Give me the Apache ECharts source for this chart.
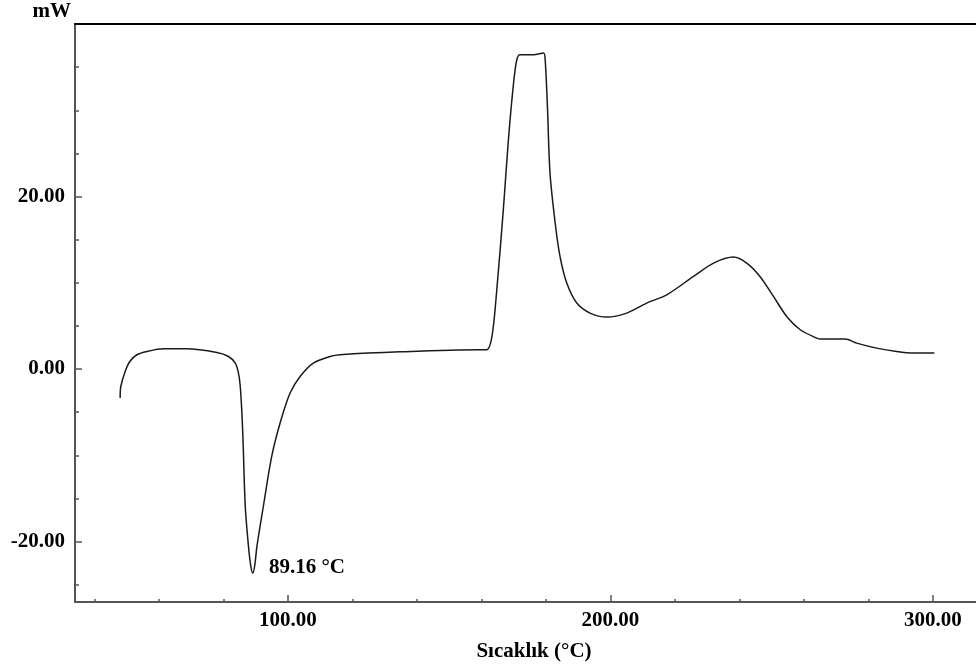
<!DOCTYPE html>
<html>
<head>
<meta charset="utf-8">
<script src="https://cdn.jsdelivr.net/npm/echarts@6/dist/echarts.min.js"></script>
<style>html,body{margin:0;padding:0;background:#fff;}#c{width:976px;height:667px;}</style>
</head>
<body>
<div id="c"></div>
<script>
// Temperature (°C)
var temps = [48.0,48.2,49.55,51.0,53.2,56.3,61.4,68.7,78.0,81.6,83.7,84.6,85.2,85.7,86.1,86.8,87.8,88.5,89.16,89.8,90.4,92.4,95.0,97.6,100.7,103.8,107.9,113.1,116.2,134.8,159.6,161.7,163.3,164.8,166.9,168.4,170.0,171.0,172.0,176.2,179.3,179.8,180.5,181.3,182.9,184.4,186.5,189.6,193.7,198.9,205.1,211.3,217.5,225.8,232.0,238.2,242.3,246.4,250.6,254.7,258.9,264.0,265.1,272.8,276.4,282.6,288.8,294.0,300.5];
// Heat flow (mW)
var heatFlow = [-3.36,-2.02,-0.28,0.88,1.66,2.04,2.35,2.35,1.92,1.46,0.70,-0.3,-1.82,-4.7,-8.2,-15.93,-20.57,-22.8,-23.65,-22.6,-20.57,-15.93,-10.13,-6.26,-2.78,-0.86,0.70,1.46,1.66,2.0,2.24,2.24,3.78,9.19,18.85,26.59,33.16,35.86,36.44,36.44,36.64,35.86,30.45,22.72,16.93,13.06,9.97,7.65,6.49,6.03,6.49,7.65,8.61,10.74,12.29,12.99,12.29,10.74,8.42,6.10,4.56,3.59,3.48,3.48,3.01,2.43,2.04,1.86,1.86];
var xMajorTicks = [100, 200, 300];
var xMinorTicks = [40, 60, 80, 120, 140, 160, 180, 220, 240, 260, 280];
var yMajorTicks = [-20, 0, 20];
var yMinorTicks = [-25, -15, -10, -5, 5, 10, 15, 25, 30, 35];
var peakPoint = [89.16, -23.65];
var peakLabel = '89.16 °C';
var xName = 'Sıcaklık (°C)';
var yName = 'mW';

var data = temps.map(function (t, i) { return [t, heatFlow[i]]; });
var font = 'Liberation Serif, Times New Roman, serif';
var FS = 21;
var axisGray = '#555';
var XMIN = 34, XMAX = 313.4, YMIN = -27, YMAX = 40;

var chart = echarts.init(document.getElementById('c'));
chart.setOption({
  animation: false,
  backgroundColor: '#fff',
  grid: { left: 75, top: 24, right: 0, bottom: 65, containLabel: false, outerBoundsMode: 'none' },
  xAxis: [
    {
      type: 'value', position: 'bottom', min: XMIN, max: XMAX,
      axisLine: { show: true, onZero: false, lineStyle: { color: axisGray, width: 2 } },
      axisTick: { show: true, inside: true, length: 7, customValues: xMajorTicks, lineStyle: { color: axisGray, width: 1.5 } },
      axisLabel: { show: true, customValues: xMajorTicks, margin: 8, formatter: function (v) { return v.toFixed(2); }, fontFamily: font, fontWeight: 'bold', fontSize: FS, color: '#000' },
      splitLine: { show: false },
      name: xName, nameLocation: 'middle', nameGap: 39,
      nameTextStyle: { fontFamily: font, fontWeight: 'bold', fontSize: FS, color: '#000', padding: [0, 0, 0, 17] }
    },
    {
      type: 'value', position: 'bottom', min: XMIN, max: XMAX,
      axisLine: { show: false, onZero: false },
      axisTick: { show: true, inside: true, length: 3, customValues: xMinorTicks, lineStyle: { color: axisGray, width: 1.5 } },
      axisLabel: { show: false },
      splitLine: { show: false }
    },
    {
      type: 'value', position: 'top', min: XMIN, max: XMAX,
      axisLine: { show: true, onZero: false, lineStyle: { color: '#000', width: 2 } },
      axisTick: { show: false }, axisLabel: { show: false }, splitLine: { show: false }
    }
  ],
  yAxis: [
    {
      type: 'value', position: 'left', min: YMIN, max: YMAX,
      axisLine: { show: true, onZero: false, lineStyle: { color: axisGray, width: 2 } },
      axisTick: { show: true, inside: true, length: 7, customValues: yMajorTicks, lineStyle: { color: axisGray, width: 1.5 } },
      axisLabel: { show: true, customValues: yMajorTicks, margin: 10, formatter: function (v) { return v.toFixed(2); }, fontFamily: font, fontWeight: 'bold', fontSize: FS, color: '#000' },
      splitLine: { show: false },
      name: yName, nameLocation: 'end', nameGap: 2,
      nameTextStyle: { fontFamily: font, fontWeight: 'bold', fontSize: FS, color: '#000', align: 'right', padding: [0, 4, 0, 0] }
    },
    {
      type: 'value', position: 'left', min: YMIN, max: YMAX,
      axisLine: { show: false, onZero: false },
      axisTick: { show: true, inside: true, length: 4, customValues: yMinorTicks, lineStyle: { color: axisGray, width: 1.5 } },
      axisLabel: { show: false },
      splitLine: { show: false }
    }
  ],
  series: [{
    type: 'line',
    xAxisIndex: 0, yAxisIndex: 0,
    data: data,
    showSymbol: false,
    smooth: 0.3,
    lineStyle: { color: '#1a1a1a', width: 1.5 },
    markPoint: {
      symbol: 'circle', symbolSize: 0,
      data: [{ coord: peakPoint, value: peakLabel }],
      label: { show: true, position: 'right', distance: 5, offset: [11, -6], formatter: peakLabel, fontFamily: font, fontWeight: 'bold', fontSize: FS, color: '#000' }
    }
  }]
});
</script>
</body>
</html>
